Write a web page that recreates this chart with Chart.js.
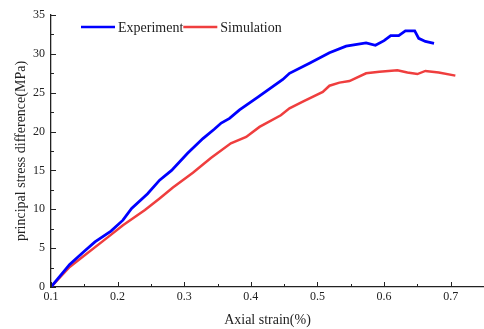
<!DOCTYPE html>
<html>
<head>
<meta charset="utf-8">
<script src="https://cdn.jsdelivr.net/npm/chart.js@4"></script>
<style>
  html, body { margin: 0; padding: 0; background: #fff; }
  #wrap { width: 484px; height: 329px; }
</style>
</head>
<body>
<div id="wrap"><canvas id="chart"></canvas></div>
<script>
// data
const expX = [0.1, 0.128, 0.15, 0.166, 0.19, 0.208, 0.221, 0.245, 0.263, 0.281, 0.305, 0.328, 0.345, 0.3555, 0.368, 0.383, 0.41, 0.448, 0.458, 0.488, 0.518, 0.543, 0.573, 0.587, 0.6, 0.61, 0.622, 0.632, 0.646, 0.652, 0.662, 0.675];
const expY = [0, 2.9, 4.6, 5.8, 7.2, 8.6, 10.1, 12.0, 13.75, 15.0, 17.2, 19.1, 20.3, 21.1, 21.7, 22.8, 24.4, 26.7, 27.5, 28.8, 30.15, 31.0, 31.4, 31.1, 31.7, 32.35, 32.35, 32.95, 32.95, 32.0, 31.6, 31.35];

const simX = [0.1, 0.128, 0.186, 0.208, 0.241, 0.263, 0.283, 0.313, 0.34, 0.37, 0.393, 0.413, 0.445, 0.458, 0.478, 0.508, 0.518, 0.533, 0.548, 0.573, 0.593, 0.62, 0.635, 0.65, 0.662, 0.682, 0.707];
const simY = [0, 2.58, 6.45, 7.95, 9.9, 11.4, 12.8, 14.7, 16.6, 18.5, 19.3, 20.6, 22.1, 23.0, 23.85, 25.1, 25.9, 26.3, 26.5, 27.5, 27.7, 27.9, 27.6, 27.4, 27.8, 27.6, 27.2];

const xTicks = [0.1, 0.2, 0.3, 0.4, 0.5, 0.6, 0.7];
const yTicks = [0, 5, 10, 15, 20, 25, 30, 35];

const serif = "'Liberation Serif', 'Times New Roman', serif";
const ink = '#222';

function pts(xs, ys) {
  return xs.map((x, i) => ({ x: x, y: ys[i] }));
}

// ticks drawn inward, with minor ticks between majors
const inwardTicks = {
  id: 'inwardTicks',
  afterDraw(chart) {
    const ctx = chart.ctx;
    const xs = chart.scales.x, ys = chart.scales.y;
    const a = chart.chartArea;
    ctx.save();
    ctx.strokeStyle = ink;
    ctx.lineWidth = 1;
    ctx.beginPath();
    for (let v = 0.1; v <= 0.7501; v += 0.05) {
      const px = Math.round(xs.getPixelForValue(v)) + 0.5;
      const major = Math.abs(v * 10 - Math.round(v * 10)) < 0.01;
      ctx.moveTo(px, a.bottom);
      ctx.lineTo(px, a.bottom - (major ? 5 : 3));
    }
    for (let v = 0; v <= 35.01; v += 2.5) {
      const py = Math.round(ys.getPixelForValue(v)) + 0.5;
      const major = v % 5 === 0;
      ctx.moveTo(a.left, py);
      ctx.lineTo(a.left + (major ? 5 : 3), py);
    }
    ctx.stroke();

    // legend inside the plot
    let lx = 81;
    const ly = 27;
    ctx.font = '14px ' + serif;
    ctx.textBaseline = 'middle';
    ctx.fillStyle = ink;
    chart.data.datasets.forEach(ds => {
      ctx.strokeStyle = ds.borderColor;
      ctx.lineWidth = 2.5;
      ctx.beginPath();
      ctx.moveTo(lx, ly);
      ctx.lineTo(lx + 34, ly);
      ctx.stroke();
      ctx.fillText(ds.label, lx + 37, ly + 1);
      lx += 37 + ctx.measureText(ds.label).width;
    });
    ctx.restore();
  }
};

new Chart(document.getElementById('chart'), {
  type: 'line',
  data: {
    datasets: [
      {
        label: 'Experiment',
        data: pts(expX, expY),
        borderColor: '#0000ff',
        borderWidth: 2.8,
        pointRadius: 0,
        tension: 0
      },
      {
        label: 'Simulation',
        data: pts(simX, simY),
        borderColor: '#ef3e3e',
        borderWidth: 2.5,
        pointRadius: 0,
        tension: 0
      }
    ]
  },
  options: {
    responsive: true,
    maintainAspectRatio: false,
    animation: false,
    layout: { padding: { top: 15, right: 0, left: 0, bottom: 0 } },
    plugins: {
      legend: { display: false },
      tooltip: { enabled: false }
    },
    scales: {
      x: {
        type: 'linear',
        min: 0.1,
        max: 0.75,
        afterBuildTicks: s => { s.ticks = xTicks.map(v => ({ value: v })); },
        afterFit: s => { s.height = 42; },
        ticks: {
          color: ink,
          font: { family: serif, size: 12 },
          padding: 3,
          maxRotation: 0,
          callback: v => v.toFixed(1)
        },
        grid: { display: true, drawOnChartArea: false, drawTicks: false },
        border: { display: true, color: ink, width: 1.3 },
        title: {
          display: true,
          text: 'Axial strain(%)',
          color: ink,
          font: { family: serif, size: 14 },
          padding: { top: 8, bottom: 0 }
        }
      },
      y: {
        min: 0,
        max: 35,
        afterBuildTicks: s => { s.ticks = yTicks.map(v => ({ value: v })); },
        afterFit: s => { s.width = 51; },
        ticks: {
          color: ink,
          font: { family: serif, size: 12 },
          padding: 6
        },
        grid: { display: true, drawOnChartArea: false, drawTicks: false },
        border: { display: true, color: ink, width: 1.3 },
        title: {
          display: true,
          text: 'principal stress difference(MPa)',
          color: ink,
          font: { family: serif, size: 14 },
          padding: { top: 13, bottom: 0 }
        }
      }
    }
  },
  plugins: [inwardTicks]
});
</script>
</body>
</html>
